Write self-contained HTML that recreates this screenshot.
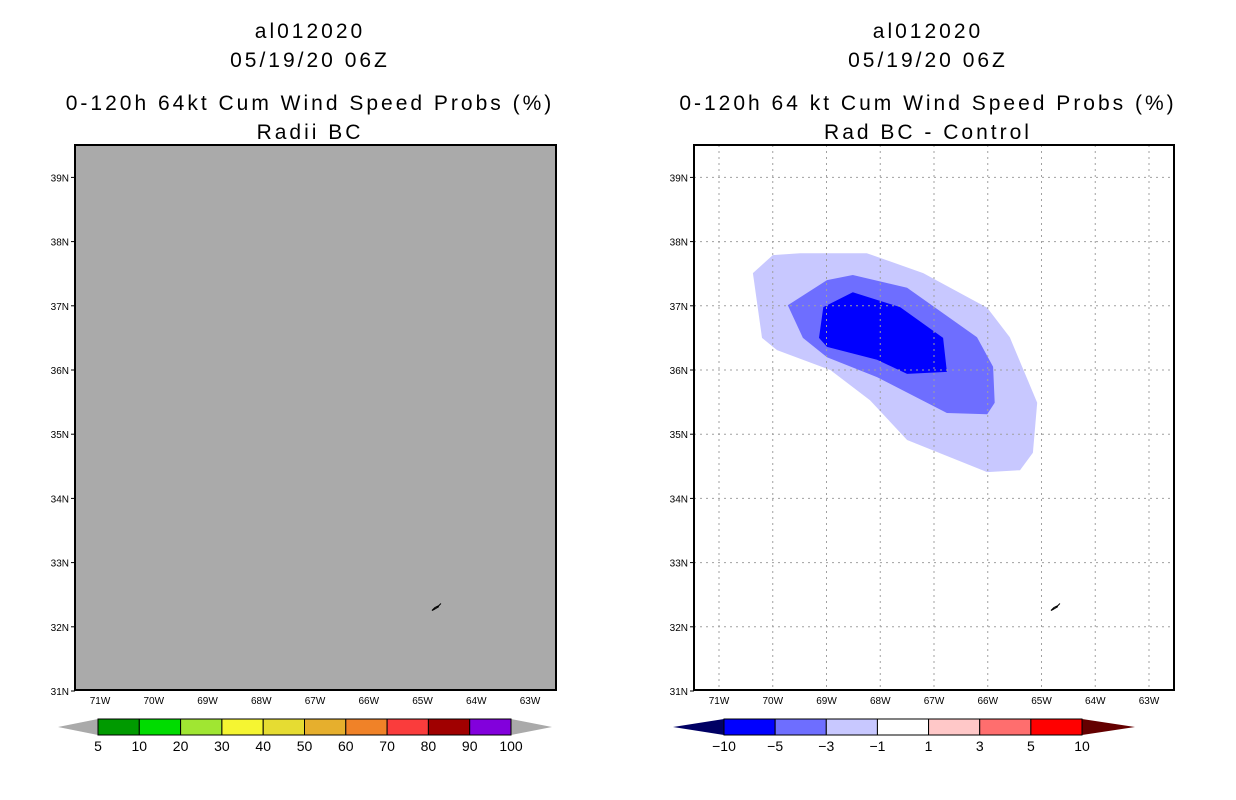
<!DOCTYPE html>
<html><head><meta charset="utf-8">
<style>
html,body{margin:0;padding:0;background:#fff;}
svg{display:block;}
text{font-family:"Liberation Sans",sans-serif;}
</style></head>
<body>
<svg id="root" width="1236" height="800" viewBox="0 0 1236 800" xmlns="http://www.w3.org/2000/svg">
  <g font-size="21" text-anchor="middle" fill="#000" letter-spacing="3">
    <text x="310" y="38">al012020</text>
    <text x="310" y="67">05/19/20 06Z</text>
    <text x="310" y="110">0-120h 64kt Cum Wind Speed Probs (%)</text>
    <text x="310" y="139">Radii BC</text>
  </g>
  <g font-size="21" text-anchor="middle" fill="#000" letter-spacing="3">
    <text x="928" y="38">al012020</text>
    <text x="928" y="67">05/19/20 06Z</text>
    <text x="928" y="110">0-120h 64 kt Cum Wind Speed Probs (%)</text>
    <text x="928" y="139">Rad BC - Control</text>
  </g>
  <g id="left"></g>
  <g id="right"></g>
  <g id="cbL"></g>
  <g id="cbR"></g>
</svg>
<script>
const latTicks = [39,38,37,36,35,34,33,32,31];
const lonTicks = [71,70,69,68,67,66,65,64,63];
const outerLon = [-70.37,-70.0,-69.49,-68.25,-67.20,-66.01,-65.59,-65.08,-65.16,-65.40,-66.01,-67.50,-68.19,-68.93,-69.92,-70.20];
const outerLat = [37.51,37.79,37.82,37.82,37.51,36.97,36.51,35.49,34.71,34.44,34.41,34.91,35.53,36.00,36.31,36.50];
const midLon = [-69.72,-68.99,-68.51,-67.50,-66.20,-65.90,-65.87,-66.01,-66.76,-68.06,-68.99,-69.44];
const midLat = [37.01,37.40,37.48,37.28,36.51,36.05,35.49,35.31,35.33,35.89,36.20,36.50];
const innerLon = [-69.06,-68.51,-67.63,-66.83,-66.76,-67.50,-68.06,-68.99,-69.14];
const innerLat = [36.98,37.21,36.98,36.50,35.97,35.94,36.16,36.36,36.50];
const leftLevels = ["5","10","20","30","40","50","60","70","80","90","100"];
const leftColors = ["#009a00","#00dc00","#a0e632","#f5f532","#e6dc32","#e6af2d","#f08228","#fa3c3c","#a00000","#8200dc"];
const rightLevels = ["\u221210","\u22125","\u22123","\u22121","1","3","5","10"];
const rightColors = ["#0000ff","#6e6eff","#c8c8ff","#ffffff","#ffc8c8","#ff6e6e","#ff0000"];

const NS="http://www.w3.org/2000/svg";
function mk(parent,tag,attrs){const e=document.createElementNS(NS,tag);for(const k in attrs)e.setAttribute(k,attrs[k]);parent.appendChild(e);return e;}
const Y0=145,Y1=690;
function yOf(lat){return 691-(lat-31)*64.2;}
function makeX(off){return lon=>719-off+(lon+71)*53.75;}

function drawPanel(g,x0,x1,off,gray,withGrid){
  const xOf=makeX(off);
  const bg=mk(g,'rect',{x:x0,y:Y0,width:x1-x0,height:Y1-Y0,fill:gray?'#aaaaaa':'#ffffff'});
  
  
  if(!gray){
    const layers=[[outerLon,outerLat,'#c8c8ff','contour-minus1'],[midLon,midLat,'#6e6eff','contour-minus3'],[innerLon,innerLat,'#0000ff','contour-minus5']];
    layers.forEach(L=>{
      const pts=L[0].map((lo,i)=>xOf(lo).toFixed(1)+','+yOf(L[1][i]).toFixed(1)).join(' ');
      const p=mk(g,'polygon',{points:pts,fill:L[2]});
      
      
    });
  }
  if(withGrid){
    lonTicks.forEach(t=>{const x=xOf(-t);const l=mk(g,'line',{x1:x,y1:Y0,x2:x,y2:Y1,stroke:'#a0a0a0','stroke-dasharray':'2,4','stroke-width':1});
      
      });
    latTicks.forEach(t=>{const y=yOf(t);if(y>=Y1)return;const l=mk(g,'line',{x1:x0,y1:y,x2:x1,y2:y,stroke:'#a0a0a0','stroke-dasharray':'2,4','stroke-width':1});
      
      });
  }
  const bx=xOf(-64.75), by=yOf(32.3);
  const b=mk(g,'path',{d:`M${bx-4},${by+3} L${bx-1},${by} L${bx+3},${by-2} L${bx+5},${by-4} M${bx-4},${by+3} L${bx-2},${by+2} L${bx+3},${by-1}`,stroke:'#000',fill:'none','stroke-width':1});
  
  
  const fr=mk(g,'rect',{x:x0,y:Y0,width:x1-x0,height:Y1-Y0,fill:'none',stroke:'#000','stroke-width':2});
  
  
  latTicks.forEach(t=>{
    const y=yOf(t);
    mk(g,'line',{x1:x0-4,y1:y,x2:x0,y2:y,stroke:'#000'});
    const tx=mk(g,'text',{x:x0-6,y:y+4,'font-size':10,'text-anchor':'end'});
    tx.textContent=t+'N';
    
    
  });
  lonTicks.forEach(t=>{
    const x=xOf(-t);
    const tx=mk(g,'text',{x:x,y:704,'font-size':10,'text-anchor':'middle'});
    tx.textContent=t+'W';
    
    
  });
}
drawPanel(document.getElementById('left'),75,556,619,true,false);
drawPanel(document.getElementById('right'),694,1174,0,false,true);

function drawBar(g,bx0,bx1,tl,tr,colors,levels,leftTri,rightTri){
  const n=colors.length, w=(bx1-bx0)/n, y0=719,y1=735,ym=727;
  const a=mk(g,'polygon',{points:`${tl},${ym} ${bx0},${y0} ${bx0},${y1}`,fill:leftTri});
  
  
  const c=mk(g,'polygon',{points:`${tr},${ym} ${bx1},${y0} ${bx1},${y1}`,fill:rightTri});
  
  
  colors.forEach((col,i)=>{
    const r=mk(g,'rect',{x:bx0+i*w,y:y0,width:w,height:y1-y0,fill:col,stroke:'#000','stroke-width':1});
    
    
  });
  levels.forEach((lv,i)=>{
    const t=mk(g,'text',{x:bx0+i*w,y:751,'font-size':14,'text-anchor':'middle'});
    t.textContent=lv;
    
    
  });
}
drawBar(document.getElementById('cbL'),98,511,58,552,leftColors,leftLevels,'#aaaaaa','#aaaaaa');
drawBar(document.getElementById('cbR'),724,1082,673,1135,rightColors,rightLevels,'#000064','#640000');
</script>
</body></html>
